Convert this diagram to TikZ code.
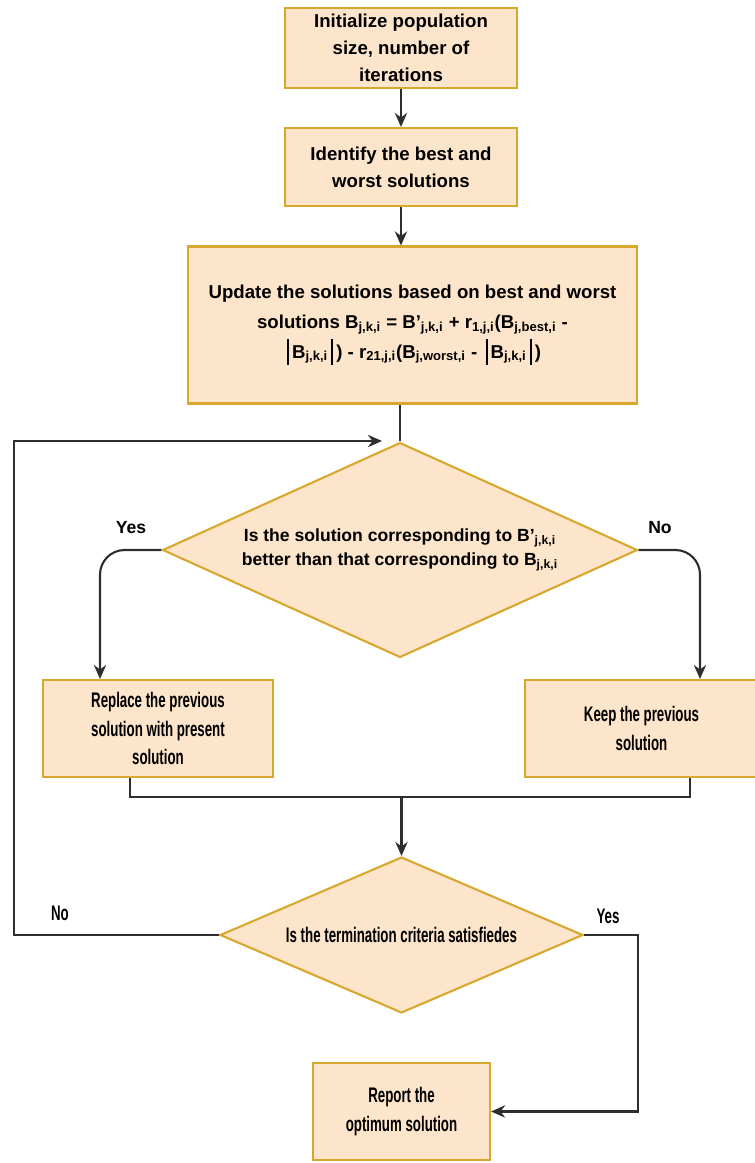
\documentclass[tikz,border=0pt]{standalone}
\usepackage{fontspec}
\setmainfont{Liberation Sans}
\newfontfamily\narrowfont[FakeStretch=0.63]{Liberation Sans}
\usetikzlibrary{arrows.meta,shapes.geometric,calc}
\definecolor{boxfill}{HTML}{FDE5CB}
\definecolor{boxline}{HTML}{D8A82E}
\definecolor{wire}{HTML}{2E2E2E}
\newcommand{\absbar}{\,\rule[-4pt]{1.1pt}{15pt}\,}

\begin{document}
\begin{tikzpicture}[x=0.02cm,y=-0.02cm,
  procbox/.style={draw=boxline,fill=boxfill,line width=1.2pt,align=center,inner sep=2pt,
    font=\bfseries\fontsize{10.6}{15.5}\selectfont},
  narrowbox/.style={procbox,font=\narrowfont\bfseries\fontsize{12}{16}\selectfont},
  decide/.style={diamond,draw=boxline,fill=boxfill,line width=1.2pt,align=center,inner sep=0pt},
  flow/.style={draw=wire,line width=1.2pt,-{Stealth[length=8pt,width=7pt]}},
  link/.style={draw=wire,line width=1.2pt},
  answer/.style={font=\narrowfont\bfseries\fontsize{12}{12}\selectfont}]
  \useasboundingbox (0,0) rectangle (754,1163);

  % initial steps
  \node[procbox,minimum width=4.64cm,minimum height=1.6cm] (init) at (401,48)
    {Initialize population\\size, number of\\iterations};
  \node[procbox,minimum width=4.64cm,minimum height=1.56cm] (ident) at (401,167)
    {Identify the best and\\worst solutions};
  \node[procbox,minimum width=8.98cm,minimum height=3.14cm,
    font=\bfseries\fontsize{10.6}{17}\selectfont] (update) at (412.5,325)
    {Update the solutions based on best and worst\\
     solutions B\textsubscript{j,k,i} = B'\textsubscript{j,k,i} + r\textsubscript{1,j,i}(B\textsubscript{j,best,i} -\\
     \absbar B\textsubscript{j,k,i}\absbar) - r\textsubscript{21,j,i}(B\textsubscript{j,worst,i} - \absbar B\textsubscript{j,k,i}\absbar)};

  % first decision
  \node[decide,minimum width=9.5cm,minimum height=4.3cm,shape aspect=2.2,
    font=\bfseries\fontsize{10}{14}\selectfont] (better) at (400,550)
    {Is the solution corresponding to B'\textsubscript{j,k,i}\\
     better than that corresponding to B\textsubscript{j,k,i}};
  \node[narrowbox,minimum width=4.6cm,minimum height=1.94cm] (replace) at (158,728.5)
    {Replace the previous\\solution with present\\solution};
  \node[narrowbox,minimum width=4.66cm,minimum height=1.94cm] (keep) at (641.5,728.5)
    {Keep the previous\\solution};

  % second decision
  \node[decide,minimum width=7.26cm,minimum height=3.12cm,shape aspect=2.33,
    font=\narrowfont\bfseries\fontsize{12}{12}\selectfont] (stop) at (401.5,935)
    {Is the termination criteria satisfiedes};
  \node[narrowbox,minimum width=3.54cm,minimum height=1.94cm] (report) at (401.5,1111.5)
    {Report the\\optimum solution};

  \coordinate (merge) at (401.5,797);
  \coordinate (loop) at (14,441);
  \coordinate (entry) at (382,441);

  % connectors
  \draw[flow] (init) -- (ident);
  \draw[flow] (ident.south) -- (ident.south |- update.north);
  \draw[link] (update.south -| better.north) -- (better.north);
  \draw[flow,rounded corners=14pt] (better.west) -| ([xshift=-1.16cm]replace.north);
  \draw[flow,rounded corners=14pt] (better.east) -| ([xshift=1.17cm]keep.north);
  \draw[link] ([xshift=-0.56cm]replace.south) |- (merge) -| ([xshift=0.97cm]keep.south);
  \draw[flow] (merge) -- (stop);
  \draw[flow] (stop.west) -| (loop) -- (entry);
  \draw[flow] (stop.east) -- ++(54,0) |- (report.east);

  % branch labels
  \node[font=\bfseries\fontsize{10}{12}\selectfont] (yesa) at (131,528) {Yes};
  \node[font=\bfseries\fontsize{10}{12}\selectfont] (noa) at (660,528) {No};
  \node[answer] (nob) at (60,913) {No};
  \node[answer] (yesb) at (608,916) {Yes};
\end{tikzpicture}
\end{document}
